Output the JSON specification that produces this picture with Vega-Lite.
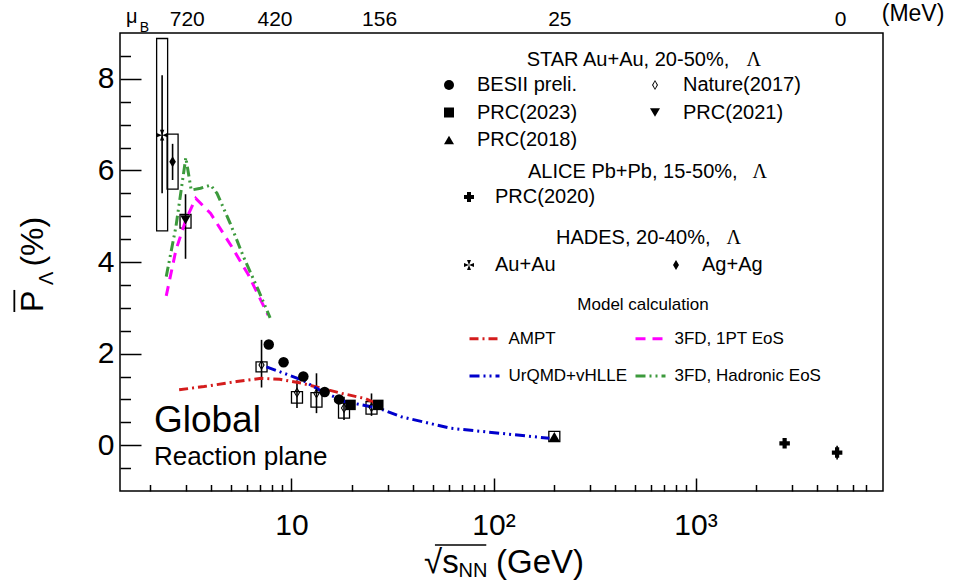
{
  "$schema": "https://vega.github.io/schema/vega-lite/v6.json",
  "width": 763,
  "height": 458,
  "autosize": {"type": "none"},
  "padding": {"left": 120, "top": 33, "right": 70, "bottom": 91},
  "background": "white",
  "config": {
    "font": "Liberation Sans",
    "view": {"stroke": "black", "strokeWidth": 1.5},
    "text": {"font": "Liberation Sans", "color": "black"},
    "legend": {"labelFont": "Liberation Sans", "labelColor": "black", "labelLimit": 400}
  },
  "datasets": {
    "obs": [
      {"grp": "STAR", "set": "BESII preli.", "e": 7.72, "p": 2.20},
      {"grp": "STAR", "set": "BESII preli.", "e": 9.14, "p": 1.81},
      {"grp": "STAR", "set": "BESII preli.", "e": 11.45, "p": 1.50},
      {"grp": "STAR", "set": "BESII preli.", "e": 14.6, "p": 1.16},
      {"grp": "STAR", "set": "BESII preli.", "e": 17.2, "p": 1.00},
      {"grp": "STAR", "set": "Nature(2017)", "e": 7.11, "p": 1.75, "stat_lo": 1.26, "stat_hi": 2.30, "sys_lo": 1.60, "sys_hi": 1.82},
      {"grp": "STAR", "set": "Nature(2017)", "e": 10.65, "p": 1.15, "stat_lo": 0.81, "stat_hi": 1.42, "sys_lo": 0.92, "sys_hi": 1.17},
      {"grp": "STAR", "set": "Nature(2017)", "e": 13.3, "p": 1.13, "stat_lo": 0.70, "stat_hi": 1.57, "sys_lo": 0.83, "sys_hi": 1.15},
      {"grp": "STAR", "set": "Nature(2017)", "e": 18.2, "p": 0.81, "stat_lo": 0.55, "stat_hi": 1.06, "sys_lo": 0.59, "sys_hi": 0.92},
      {"grp": "STAR", "set": "Nature(2017)", "e": 24.9, "p": 0.83, "stat_lo": 0.64, "stat_hi": 1.13, "sys_lo": 0.68, "sys_hi": 0.95},
      {"grp": "STAR", "set": "PRC(2023)", "e": 19.6, "p": 0.88},
      {"grp": "STAR", "set": "PRC(2023)", "e": 26.9, "p": 0.88},
      {"grp": "STAR", "set": "PRC(2021)", "e": 2.99, "p": 4.92, "stat_lo": 4.07, "stat_hi": 5.48, "sys_lo": 4.74, "sys_hi": 5.04},
      {"grp": "STAR", "set": "PRC(2018)", "e": 200, "p": 0.19, "stat_lo": 0.14, "stat_hi": 0.24, "sys_lo": 0.08, "sys_hi": 0.30},
      {"grp": "ALICE", "set": "PRC(2020)", "e": 2760, "p": 0.04, "stat_lo": -0.02, "stat_hi": 0.10},
      {"grp": "ALICE", "set": "PRC(2020)", "e": 5020, "p": -0.16, "stat_lo": -0.31, "stat_hi": -0.01},
      {"grp": "HADES", "set": "Au+Au", "e": 2.29, "p": 6.77, "stat_lo": 5.50, "stat_hi": 8.08, "sys_lo": 4.68, "sys_hi": 8.88},
      {"grp": "HADES", "set": "Ag+Ag", "e": 2.58, "p": 6.19, "stat_lo": 5.79, "stat_hi": 6.58, "sys_lo": 5.59, "sys_hi": 6.79}
    ],
    "models": [
      {"model": "AMPT", "e": 2.78, "p": 1.21},
      {"model": "AMPT", "e": 3.69, "p": 1.28},
      {"model": "AMPT", "e": 5.36, "p": 1.39},
      {"model": "AMPT", "e": 7.11, "p": 1.46},
      {"model": "AMPT", "e": 8.74, "p": 1.44},
      {"model": "AMPT", "e": 11.36, "p": 1.35},
      {"model": "AMPT", "e": 17.8, "p": 1.13},
      {"model": "AMPT", "e": 23.1, "p": 1.02},
      {"model": "AMPT", "e": 25.9, "p": 0.92},
      {"model": "3FD, 1PT EoS", "e": 2.40, "p": 3.26},
      {"model": "3FD, 1PT EoS", "e": 2.68, "p": 4.26},
      {"model": "3FD, 1PT EoS", "e": 3.00, "p": 4.92},
      {"model": "3FD, 1PT EoS", "e": 3.36, "p": 5.39},
      {"model": "3FD, 1PT EoS", "e": 3.98, "p": 5.06},
      {"model": "3FD, 1PT EoS", "e": 5.07, "p": 4.33},
      {"model": "3FD, 1PT EoS", "e": 6.12, "p": 3.72},
      {"model": "3FD, 1PT EoS", "e": 7.66, "p": 2.84},
      {"model": "UrQMD+vHLLE", "e": 7.52, "p": 1.71},
      {"model": "UrQMD+vHLLE", "e": 11.36, "p": 1.42},
      {"model": "UrQMD+vHLLE", "e": 14.2, "p": 1.17},
      {"model": "UrQMD+vHLLE", "e": 18.5, "p": 0.95},
      {"model": "UrQMD+vHLLE", "e": 26.9, "p": 0.81},
      {"model": "UrQMD+vHLLE", "e": 35.0, "p": 0.62},
      {"model": "UrQMD+vHLLE", "e": 61.4, "p": 0.37},
      {"model": "UrQMD+vHLLE", "e": 107.8, "p": 0.26},
      {"model": "UrQMD+vHLLE", "e": 189, "p": 0.15},
      {"model": "3FD, Hadronic EoS", "e": 2.40, "p": 3.68},
      {"model": "3FD, Hadronic EoS", "e": 2.68, "p": 4.77},
      {"model": "3FD, Hadronic EoS", "e": 3.00, "p": 6.28},
      {"model": "3FD, Hadronic EoS", "e": 3.19, "p": 5.57},
      {"model": "3FD, Hadronic EoS", "e": 3.55, "p": 5.61},
      {"model": "3FD, Hadronic EoS", "e": 3.98, "p": 5.68},
      {"model": "3FD, Hadronic EoS", "e": 4.28, "p": 5.50},
      {"model": "3FD, Hadronic EoS", "e": 4.98, "p": 4.84},
      {"model": "3FD, Hadronic EoS", "e": 5.78, "p": 4.12},
      {"model": "3FD, Hadronic EoS", "e": 6.85, "p": 3.39},
      {"model": "3FD, Hadronic EoS", "e": 7.84, "p": 2.78}
    ],
    "mub": [
      {"mu": "720", "e": 3.05},
      {"mu": "420", "e": 8.29},
      {"mu": "156", "e": 27.3},
      {"mu": "25", "e": 213},
      {"mu": "0", "e": 5224}
    ]
  },
  "resolve": {"scale": {"shape": "independent"}, "axis": {"x": "independent", "y": "independent"}},
  "layer": [
    {
      "data": {"name": "obs"},
      "transform": [{"filter": "isValid(datum.sys_lo)"}],
      "mark": {"type": "bar", "width": 11, "filled": false, "color": "black", "strokeWidth": 1.3},
      "encoding": {
        "x": {
          "field": "e", "type": "quantitative", "title": null,
          "scale": {"type": "log", "domain": [1.5, 8000], "nice": false},
          "axis": {
            "orient": "bottom", "values": [10, 100, 1000],
            "ticks": false, "tickSize": 0, "domain": false, "grid": false,
            "labelExpr": "datum.value == 10 ? '10' : datum.value == 100 ? '10²' : '10³'",
            "labelFontSize": 30, "labelColor": "black", "labelPadding": 19,
            "labelOverlap": false, "labelFlush": false, "title": null
          }
        },
        "y": {
          "field": "sys_lo", "type": "quantitative", "title": null,
          "scale": {"domain": [-1, 9], "nice": false, "zero": false},
          "axis": {
            "orient": "left", "values": [0, 2, 4, 6, 8],
            "ticks": false, "tickSize": 0, "domain": false, "grid": false,
            "labelFontSize": 30, "labelColor": "black", "labelPadding": 6,
            "labelOverlap": false, "labelFlush": false, "title": null
          }
        },
        "y2": {"field": "sys_hi"}
      }
    },
    {
      "data": {"name": "obs"},
      "transform": [{"filter": "isValid(datum.stat_lo)"}],
      "mark": {"type": "rule", "color": "black", "strokeWidth": 1.6},
      "encoding": {
        "x": {
          "field": "e", "type": "quantitative", "title": null,
          "axis": {"orient": "bottom", "values": [10, 100, 1000], "tickSize": -13, "tickWidth": 1.5, "tickColor": "black", "labels": false, "domain": false, "grid": false, "title": null}
        },
        "y": {
          "field": "stat_lo", "type": "quantitative", "title": null,
          "axis": {"orient": "left", "values": [0, 2, 4, 6, 8], "tickSize": -21, "tickWidth": 1.5, "tickColor": "black", "labels": false, "domain": false, "grid": false, "title": null}
        },
        "y2": {"field": "stat_hi"}
      }
    },
    {
      "data": {"name": "models"},
      "mark": {"type": "line", "strokeWidth": 3},
      "encoding": {
        "x": {
          "field": "e", "type": "quantitative", "title": null,
          "axis": {"orient": "bottom", "values": [2, 3, 4, 5, 6, 7, 8, 9, 20, 30, 40, 50, 60, 70, 80, 90, 200, 300, 400, 500, 600, 700, 800, 900, 2000, 3000, 4000, 5000, 6000, 7000], "tickSize": -6.5, "tickWidth": 1.5, "tickColor": "black", "labels": false, "domain": false, "grid": false, "title": null}
        },
        "y": {
          "field": "p", "type": "quantitative", "title": null,
          "axis": {"orient": "left", "values": [-0.5, 0.5, 1, 1.5, 2.5, 3, 3.5, 4.5, 5, 5.5, 6.5, 7, 7.5, 8.5], "tickSize": -10.5, "tickWidth": 1.5, "tickColor": "black", "labels": false, "domain": false, "grid": false, "title": null}
        },
        "color": {
          "field": "model", "type": "nominal",
          "scale": {"domain": ["AMPT", "3FD, 1PT EoS", "UrQMD+vHLLE", "3FD, Hadronic EoS"], "range": ["#d41c1c", "#ff00ff", "#0000cc", "#3c9a3c"]},
          "legend": {"orient": "none", "direction": "horizontal", "legendX": 348, "legendY": 289, "title": null, "columns": 2, "columnPadding": 1, "rowPadding": 12.5, "labelFontSize": 17, "labelOffset": 7.5, "symbolSize": 900, "symbolStrokeWidth": 3, "symbolType": "stroke", "padding": 0}
        },
        "strokeDash": {
          "field": "model", "type": "nominal",
          "scale": {"domain": ["AMPT", "3FD, 1PT EoS", "UrQMD+vHLLE", "3FD, Hadronic EoS"], "range": [[9, 4, 2, 4], [10, 7], [10, 4, 2, 4, 2, 4], [10, 4, 2, 4, 2, 4]]},
          "legend": {"orient": "none", "direction": "horizontal", "legendX": 348, "legendY": 289, "title": null, "columns": 2, "columnPadding": 1, "rowPadding": 12.5, "labelFontSize": 17, "labelOffset": 7.5, "symbolSize": 900, "symbolStrokeWidth": 3, "symbolType": "stroke", "padding": 0}
        }
      }
    },
    {
      "data": {"name": "obs"},
      "transform": [{"filter": "datum.grp == 'STAR'"}],
      "mark": {"type": "point", "filled": true, "color": "black", "size": 110, "opacity": 1},
      "encoding": {
        "x": {"field": "e", "type": "quantitative", "axis": null},
        "y": {"field": "p", "type": "quantitative", "axis": null},
        "shape": {
          "field": "set", "type": "nominal",
          "scale": {"domain": ["BESII preli.", "Nature(2017)", "PRC(2023)", "PRC(2021)", "PRC(2018)"], "range": ["circle", "M0,-1L0.6,0L0,1L-0.6,0Z M0,-0.68L-0.36,0L0,0.68L0.36,0Z", "square", "triangle-down", "triangle-up"]},
          "legend": {"orient": "none", "direction": "horizontal", "legendX": 319, "legendY": 42, "title": null, "columns": 2, "columnPadding": 67, "rowPadding": 7.5, "labelFontSize": 20, "labelOffset": 18, "symbolSize": 100, "symbolFillColor": "black", "symbolStrokeColor": "black", "padding": 0}
        }
      }
    },
    {
      "data": {"name": "obs"},
      "transform": [{"filter": "datum.grp == 'ALICE'"}],
      "mark": {"type": "point", "filled": true, "color": "black", "size": 110, "opacity": 1},
      "encoding": {
        "x": {"field": "e", "type": "quantitative", "axis": null},
        "y": {"field": "p", "type": "quantitative", "axis": null},
        "shape": {
          "field": "set", "type": "nominal",
          "scale": {"domain": ["PRC(2020)"], "range": ["cross"]},
          "legend": {"orient": "none", "legendX": 339, "legendY": 154, "title": null, "labelFontSize": 20, "labelOffset": 16, "symbolSize": 100, "symbolFillColor": "black", "symbolStrokeColor": "black", "padding": 0}
        }
      }
    },
    {
      "data": {"name": "obs"},
      "transform": [{"filter": "datum.grp == 'HADES'"}],
      "mark": {"type": "point", "filled": true, "color": "black", "size": 120, "opacity": 1},
      "encoding": {
        "x": {"field": "e", "type": "quantitative", "axis": null},
        "y": {"field": "p", "type": "quantitative", "axis": null},
        "shape": {
          "field": "set", "type": "nominal",
          "scale": {"domain": ["Au+Au", "Ag+Ag"], "range": ["M0,0L-0.4,-1L0.4,-1Z M0,0L1,-0.4L1,0.4Z M0,0L0.4,1L-0.4,1Z M0,0L-1,0.4L-1,-0.4Z", "M0,-1L0.6,0L0,1L-0.6,0Z"]},
          "legend": {"orient": "none", "direction": "horizontal", "legendX": 339, "legendY": 222, "title": null, "columns": 2, "columnPadding": 110, "labelFontSize": 20, "labelOffset": 16, "symbolSize": 100, "symbolFillColor": "black", "symbolStrokeColor": "black", "padding": 0}
        }
      }
    },
    {
      "data": {"name": "mub"},
      "mark": {"type": "text", "fontSize": 21, "align": "center", "baseline": "alphabetic"},
      "encoding": {
        "x": {"field": "e", "type": "quantitative", "axis": null},
        "y": {"datum": 9.153, "axis": null},
        "text": {"field": "mu"}
      }
    },
    {
      "data": {"values": [{}]},
      "mark": {"type": "text", "fontSize": 20, "align": "left", "baseline": "alphabetic", "text": "STAR Au+Au, 20-50%,"},
      "encoding": {"x": {"datum": 146, "axis": null}, "y": {"datum": 8.279, "axis": null}}
    },
    {
      "data": {"values": [{}]},
      "mark": {"type": "text", "fontSize": 20, "font": "Liberation Serif", "align": "center", "baseline": "alphabetic", "text": "Λ"},
      "encoding": {"x": {"datum": 1941, "axis": null}, "y": {"datum": 8.279, "axis": null}}
    },
    {
      "data": {"values": [{}]},
      "mark": {"type": "text", "fontSize": 20, "align": "left", "baseline": "alphabetic", "text": "ALICE Pb+Pb, 15-50%,"},
      "encoding": {"x": {"datum": 148.2, "axis": null}, "y": {"datum": 5.828, "axis": null}}
    },
    {
      "data": {"values": [{}]},
      "mark": {"type": "text", "fontSize": 20, "font": "Liberation Serif", "align": "center", "baseline": "alphabetic", "text": "Λ"},
      "encoding": {"x": {"datum": 2076, "axis": null}, "y": {"datum": 5.828, "axis": null}}
    },
    {
      "data": {"values": [{}]},
      "mark": {"type": "text", "fontSize": 20, "align": "left", "baseline": "alphabetic", "text": "HADES, 20-40%,"},
      "encoding": {"x": {"datum": 203.9, "axis": null}, "y": {"datum": 4.393, "axis": null}}
    },
    {
      "data": {"values": [{}]},
      "mark": {"type": "text", "fontSize": 20, "font": "Liberation Serif", "align": "center", "baseline": "alphabetic", "text": "Λ"},
      "encoding": {"x": {"datum": 1544, "axis": null}, "y": {"datum": 4.393, "axis": null}}
    },
    {
      "data": {"values": [{}]},
      "mark": {"type": "text", "fontSize": 17, "align": "left", "baseline": "alphabetic", "text": "Model calculation"},
      "encoding": {"x": {"datum": 260, "axis": null}, "y": {"datum": 2.952, "axis": null}}
    },
    {
      "data": {"values": [{}]},
      "mark": {"type": "text", "fontSize": 37, "align": "left", "baseline": "alphabetic", "text": "Global"},
      "encoding": {"x": {"datum": 2.085, "axis": null}, "y": {"datum": 0.295, "axis": null}}
    },
    {
      "data": {"values": [{}]},
      "mark": {"type": "text", "fontSize": 26, "align": "left", "baseline": "alphabetic", "text": "Reaction plane"},
      "encoding": {"x": {"datum": 2.085, "axis": null}, "y": {"datum": -0.432, "axis": null}}
    },
    {
      "data": {"values": [{}]},
      "mark": {"type": "text", "fontSize": 20, "align": "left", "baseline": "alphabetic", "text": "μ"},
      "encoding": {"x": {"datum": 1.517, "axis": null}, "y": {"datum": 9.229, "axis": null}}
    },
    {
      "data": {"values": [{}]},
      "mark": {"type": "text", "fontSize": 14, "align": "left", "baseline": "alphabetic", "text": "B"},
      "encoding": {"x": {"datum": 1.776, "axis": null}, "y": {"datum": 9.028, "axis": null}}
    },
    {
      "data": {"values": [{}]},
      "mark": {"type": "text", "fontSize": 23, "align": "left", "baseline": "alphabetic", "text": "(MeV)"},
      "encoding": {"x": {"datum": 8348, "axis": null}, "y": {"datum": 9.262, "axis": null}}
    },
    {
      "data": {"values": [{}]},
      "mark": {"type": "text", "fontSize": 32, "angle": 270, "align": "left", "baseline": "alphabetic", "text": "P"},
      "encoding": {"x": {"datum": 0.5896, "axis": null}, "y": {"datum": 2.908, "axis": null}}
    },
    {
      "data": {"values": [{}]},
      "mark": {"type": "rule", "color": "black", "strokeWidth": 1.8},
      "encoding": {"x": {"datum": 0.425, "axis": null}, "x2": {"datum": 0.425}, "y": {"datum": 2.908, "axis": null}, "y2": {"datum": 3.39}}
    },
    {
      "data": {"values": [{}]},
      "mark": {"type": "text", "fontSize": 20, "angle": 270, "align": "left", "baseline": "alphabetic", "text": "Λ"},
      "encoding": {"x": {"datum": 0.66, "axis": null}, "y": {"datum": 3.50, "axis": null}}
    },
    {
      "data": {"values": [{}]},
      "mark": {"type": "text", "fontSize": 32, "angle": 270, "align": "left", "baseline": "alphabetic", "text": "(%)"},
      "encoding": {"x": {"datum": 0.5896, "axis": null}, "y": {"datum": 3.90, "axis": null}}
    },
    {
      "data": {"values": [{}]},
      "mark": {"type": "text", "fontSize": 33, "align": "left", "baseline": "alphabetic", "text": "√s"},
      "encoding": {"x": {"datum": 45.3, "axis": null}, "y": {"datum": -2.79, "axis": null}}
    },
    {
      "data": {"values": [{}]},
      "mark": {"type": "text", "fontSize": 20, "align": "left", "baseline": "alphabetic", "text": "NN"},
      "encoding": {"x": {"datum": 67.2, "axis": null}, "y": {"datum": -2.87, "axis": null}}
    },
    {
      "data": {"values": [{}]},
      "mark": {"type": "text", "fontSize": 33, "align": "left", "baseline": "alphabetic", "text": "(GeV)"},
      "encoding": {"x": {"datum": 103, "axis": null}, "y": {"datum": -2.79, "axis": null}}
    },
    {
      "data": {"values": [{}]},
      "mark": {"type": "rule", "color": "black", "strokeWidth": 1.5},
      "encoding": {"x": {"datum": 51.3, "axis": null}, "x2": {"datum": 92.1}, "y": {"datum": -2.179, "axis": null}, "y2": {"datum": -2.179}}
    }
  ]
}
